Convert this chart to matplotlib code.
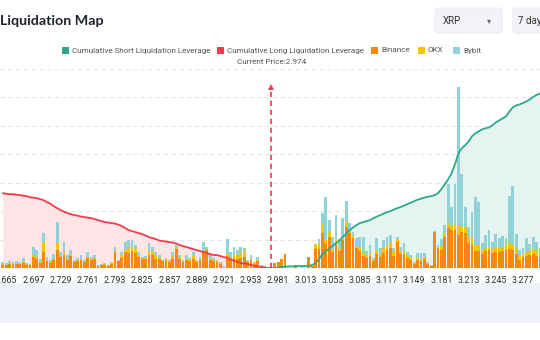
import matplotlib
matplotlib.use("Agg")
import matplotlib.pyplot as plt
from matplotlib.patches import Rectangle, FancyBboxPatch
import numpy as np

# ---------------- data ----------------
tick_labels = ["2.665", "2.697", "2.729", "2.761", "2.793", "2.825", "2.857", "2.889",
               "2.921", "2.953", "2.981", "3.013", "3.053", "3.085", "3.117", "3.149",
               "3.181", "3.213", "3.245", "3.277"]
current_price = 2.974

binance = [3, 3, 4, 4, 4, 4, 5, 3, 3, 11, 9, 5, 16, 7, 5, 8, 18, 11, 13, 8,
           12, 6, 7, 8, 6, 10, 8, 9, 2, 3, 3, 2, 4, 16, 7, 10, 16, 15, 17, 15,
           11, 9, 9, 13, 13, 9, 9, 7, 8, 6, 9, 19, 9, 6, 8, 7, 9, 6, 8, 16,
           18, 8, 7, 6, 4, 0, 12, 8, 10, 9, 10, 11, 6, 8, 4, 7, 2, 1, 1, 0,
           5, 6, 9, 14, 0, 0, 3, 0, 0, 0, 11, 2, 19, 19, 35, 24, 31, 16, 25, 17,
           28, 41, 35, 30, 20, 17, 12, 10, 12, 7, 14, 11, 15, 18, 20, 12, 26, 14, 14, 10,
           8, 4, 8, 7, 9, 4, 2, 36, 20, 18, 31, 40, 38, 38, 33, 36, 35, 25, 23, 17,
           17, 14, 17, 18, 15, 16, 16, 17, 18, 19, 18, 14, 8, 11, 12, 13, 14, 12, 11]
okx = [1, 0, 1, 1, 1, 1, 1, 1, 0, 2, 2, 1, 9, 1, 1, 1, 7, 1, 4, 1,
       1, 0, 1, 1, 0, 1, 1, 1, 0, 0, 1, 0, 1, 1, 0, 3, 2, 5, 4, 4,
       1, 1, 1, 4, 4, 4, 1, 0, 1, 1, 3, 2, 1, 1, 1, 1, 3, 1, 0, 1,
       1, 1, 1, 1, 1, 0, 2, 3, 3, 4, 5, 6, 1, 1, 1, 1, 0, 0, 0, 0,
       0, 0, 0, 0, 0, 0, 0, 0, 0, 0, 0, 0, 4, 6, 9, 4, 5, 3, 3, 2,
       2, 5, 2, 2, 2, 3, 3, 2, 3, 1, 4, 2, 5, 5, 6, 4, 2, 2, 3, 2,
       2, 1, 2, 2, 2, 1, 0, 0, 1, 4, 4, 5, 4, 5, 10, 5, 6, 6, 8, 6,
       6, 4, 3, 2, 4, 5, 4, 4, 5, 6, 5, 6, 4, 3, 4, 4, 5, 4, 4]
bybit = [2, 2, 2, 1, 2, 1, 4, 1, 1, 8, 7, 3, 10, 3, 2, 5, 21, 4, 9, 4,
         5, 2, 2, 4, 2, 5, 2, 3, 1, 1, 1, 1, 1, 4, 1, 3, 8, 8, 7, 4,
         4, 1, 2, 8, 4, 3, 3, 1, 1, 1, 4, 2, 3, 1, 4, 2, 4, 1, 3, 9,
         2, 4, 2, 1, 1, 2, 15, 5, 8, 5, 6, 3, 1, 4, 1, 3, 1, 1, 0, 0,
         0, 0, 0, 0, 0, 0, 0, 0, 1, 0, 0, 0, 1, 4, 11, 43, 12, 12, 25, 10,
         20, 21, 8, 4, 8, 11, 16, 5, 8, 2, 12, 7, 8, 8, 7, 4, 3, 5, 8, 4,
         3, 1, 5, 6, 4, 1, 1, 1, 2, 7, 8, 39, 19, 41, 138, 53, 20, 10, 25, 48,
         43, 7, 13, 18, 7, 13, 10, 11, 7, 47, 59, 14, 6, 6, 14, 7, 12, 10, 5]

long_cum = [75, 74.5, 74, 74, 73.5, 73, 72.5, 72, 71, 70.5, 70, 69, 68, 66, 64.5, 62,
            60, 58, 56.5, 55, 54, 53, 52.5, 51.5, 51, 50.5, 50, 49, 48, 47, 46, 45.5,
            45, 44.5, 43.5, 42, 40, 38, 37, 36, 35, 34, 32.5, 31, 30, 29, 27.5, 27,
            26.5, 26, 25.5, 24.5, 23, 22, 21, 20, 19, 18, 17, 16, 15, 14, 13, 13,
            12, 11, 10, 8.5, 7.5, 6, 5, 4.5, 4, 3, 2, 1.5, 1, 0.5, 0, 0]
short_cum = [0, 0, 0.5, 1, 1.3, 1.5, 1.7, 1.8, 2, 2, 2, 2, 3, 5, 9, 14,
             17, 19.5, 22, 25, 27.5, 31, 34.5, 38, 40.5, 43, 45, 46, 47, 48, 50, 51.5,
             53, 54.5, 56, 57, 58.5, 60, 61, 62.5, 64, 65.5, 67, 68.5, 69.5, 70.5, 71.5, 72,
             73, 75, 79, 84, 89, 95, 104, 115, 120, 123, 127, 132, 135, 137, 139, 140,
             141, 143, 146, 148, 150, 152, 157, 161, 163, 164, 165.5, 167, 169, 171.5, 173.5, 175]

# ---------------- styling ----------------
C_SHORT = "#2aaa8a"
C_LONG = "#f23b4b"
C_BIN = "#f7880f"
C_OKX = "#f8c300"
C_BYB = "#8fd3d8"
FONT = "Roboto"

W, H = 540, 340
fig = plt.figure(figsize=(W / 100, H / 100), dpi=100)
fig.patch.set_facecolor("white")

def fx(x):
    return x / W

def fy(y):
    return 1 - y / H

# bottom band
fig.add_artist(Rectangle((0, fy(323)), 1, (323 - 283) / H, transform=fig.transFigure,
                         facecolor="#eef2fd", edgecolor="none", zorder=0))

# main axes
base_px, top_px = 268, 68.5
ax = fig.add_axes([0, fy(base_px), 1, (base_px - top_px) / H])
ax.set_facecolor("none")
n = len(binance)
idx = np.arange(n)
first_tick = 1
bar_px = 3.4
left_edge = -(2.8 / bar_px)
ax.set_xlim(left_edge, left_edge + W / bar_px)
ax.set_ylim(0, 200)

b = np.array(binance, float)
o = np.array(okx, float)
y = np.array(bybit, float)

# areas
li = np.arange(len(long_cum))
si = np.arange(n - len(short_cum), n)
ax.fill_between(li, 0, long_cum, color="#fde4e7", lw=0, zorder=1)
ax.fill_between(si, 0, short_cum, color="#e5f4f0", lw=0, zorder=1)

bw = 0.78
ax.bar(idx, b, width=bw, color=C_BIN, lw=0, zorder=2)
ax.bar(idx, o, width=bw, bottom=b, color=C_OKX, lw=0, zorder=2)
ax.bar(idx, y, width=bw, bottom=b + o, color=C_BYB, lw=0, zorder=2)

ax.plot(li, long_cum, color=C_LONG, lw=1.3, zorder=3, solid_capstyle="round")
ax.plot(si, short_cum, color=C_SHORT, lw=1.3, zorder=3, solid_capstyle="round")

# current price marker (between 2.953 and 2.981 categories)
price_pos = first_tick + 8 * tick_labels.index("2.981") - 2
ax.vlines(price_pos, 0, 178, colors=C_LONG, linestyles=(0, (3.2, 2.2)), lw=1.2, zorder=4)
ax.plot([price_pos], [181], marker="^", color=C_LONG, markersize=4.5, zorder=4,
        markeredgewidth=0)

# grid
ax.set_yticks(np.linspace(0, 200, 8))
ax.yaxis.grid(True, linestyle=(0, (4, 3)), color="#e4e4e4", lw=0.8)
ax.set_axisbelow(True)
ax.tick_params(axis="y", left=False, labelleft=False)
ticks = [first_tick + 8 * k for k in range(len(tick_labels))]
ax.set_xticks(ticks)
ax.set_xticklabels(tick_labels, fontsize=6.4, color="#2b2b2b", family=FONT)
ax.tick_params(axis="x", length=0, pad=5.5)
for s in ax.spines.values():
    s.set_visible(False)

# title
fig.text(fx(0), fy(21), "Liquidation Map", fontsize=10.3, fontweight="bold",
         color="#1e2329", family="Lato", ha="left", va="center")

# dropdowns
fig.add_artist(FancyBboxPatch((fx(435), fy(33)), (502 - 435) / W, 25 / H,
                              boxstyle="round,pad=0,rounding_size=0.006",
                              transform=fig.transFigure, facecolor="#f1f3f6",
                              edgecolor="#e6e8eb", lw=0.6))
fig.text(fx(443), fy(20.5), "XRP", fontsize=7, color="#333333", family=FONT,
         ha="left", va="center")
fig.text(fx(489), fy(20.5), "\u25BE", fontsize=6, color="#666666", family="DejaVu Sans",
         ha="center", va="center")
fig.add_artist(FancyBboxPatch((fx(513), fy(33)), 40 / W, 25 / H,
                              boxstyle="round,pad=0,rounding_size=0.006",
                              transform=fig.transFigure, facecolor="#f1f3f6",
                              edgecolor="#e6e8eb", lw=0.6))
fig.text(fx(518), fy(20.5), "7 day", fontsize=7, color="#333333", family=FONT,
         ha="left", va="center")

# legend
legend_items = [(62, C_SHORT, "Cumulative Short Liquidation Leverage"),
                (217, C_LONG, "Cumulative Long Liquidation Leverage"),
                (371, C_BIN, "Binance"),
                (418, C_OKX, "OKX"),
                (453, C_BYB, "Bybit")]
for x0, c, lab in legend_items:
    fig.add_artist(Rectangle((fx(x0), fy(54)), 7 / W, 7 / H, transform=fig.transFigure,
                             facecolor=c, edgecolor="none"))
    fig.text(fx(x0 + 10), fy(50.5), lab, fontsize=5.9, color="#555555", family=FONT,
             ha="left", va="center")
fig.text(fx(272), fy(61.5), f"Current Price:{current_price}", fontsize=5.9,
         color="#555555", family=FONT, ha="center", va="center")

fig.savefig("out.png", dpi=100, facecolor="white")
